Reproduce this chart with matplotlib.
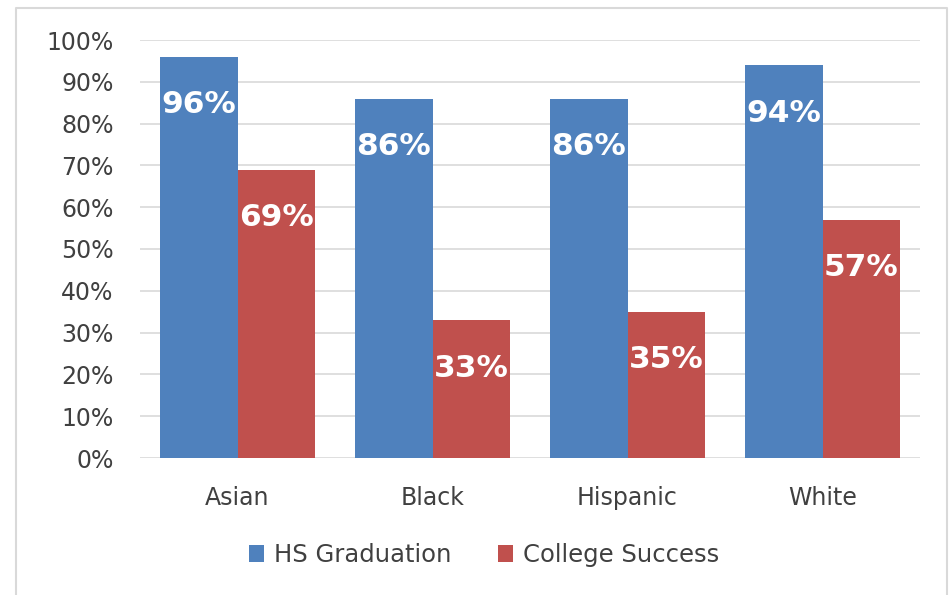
import numpy as np
import matplotlib.pyplot as plt
from matplotlib.lines import Line2D

# data
groups = ['Asian', 'Black', 'Hispanic', 'White']
hs_grad = [0.96, 0.86, 0.86, 0.94]
college = [0.69, 0.33, 0.35, 0.57]
yticks = np.arange(0, 1.01, 0.1)

blue = '#4F81BD'
red = '#C0504D'
txt = '#404040'

fig = plt.figure(figsize=(9.51, 5.95), dpi=100)
ax = fig.add_axes([140/951, 1-458/595, 780/951, 418/595])

x = np.arange(len(groups))
w = 0.395
b1 = ax.bar(x - w/2, hs_grad, w, color=blue, label='HS Graduation', zorder=3)
b2 = ax.bar(x + w/2, college, w, color=red, label='College Success', zorder=3)

# value labels inside the bar tops
for bars, vals in ((b1, hs_grad), (b2, college)):
    for r, v in zip(bars, vals):
        ax.annotate('%d%%' % round(v*100), (r.get_x() + r.get_width()/2, v),
                    xytext=(0, -48), textcoords='offset pixels',
                    ha='center', va='center', color='white',
                    fontsize=22.5, fontweight='bold', zorder=4)

ax.set_xlim(-0.5, 3.5)
ax.set_ylim(0, 1)
ax.set_yticks(yticks)
ax.set_yticklabels(['%d%%' % round(t*100) for t in yticks])
ax.set_xticks(x)
ax.set_xticklabels(groups)
ax.tick_params(axis='both', length=0, labelsize=17, colors=txt)
ax.tick_params(axis='y', pad=19)
ax.tick_params(axis='x', pad=20)
ax.grid(axis='y', color='#d9d9d9', lw=1.2, zorder=0)
for s in ax.spines.values():
    s.set_visible(False)

fig.legend(handles=[b1, b2], loc='center', bbox_to_anchor=(484/951, 1-555/595),
           ncol=2, frameon=False, fontsize=17.5, labelcolor=txt,
           handlelength=0.65, handleheight=0.65, handletextpad=0.4,
           columnspacing=1.9)

# light frame around the chart
bx = [16/951, 16/951, 947/951, 947/951]
by = [0, 1-8/595, 1-8/595, 0]
fig.add_artist(Line2D(bx, by, transform=fig.transFigure, color='#d9d9d9', lw=1.5))

fig.savefig('out.png', dpi=100)
